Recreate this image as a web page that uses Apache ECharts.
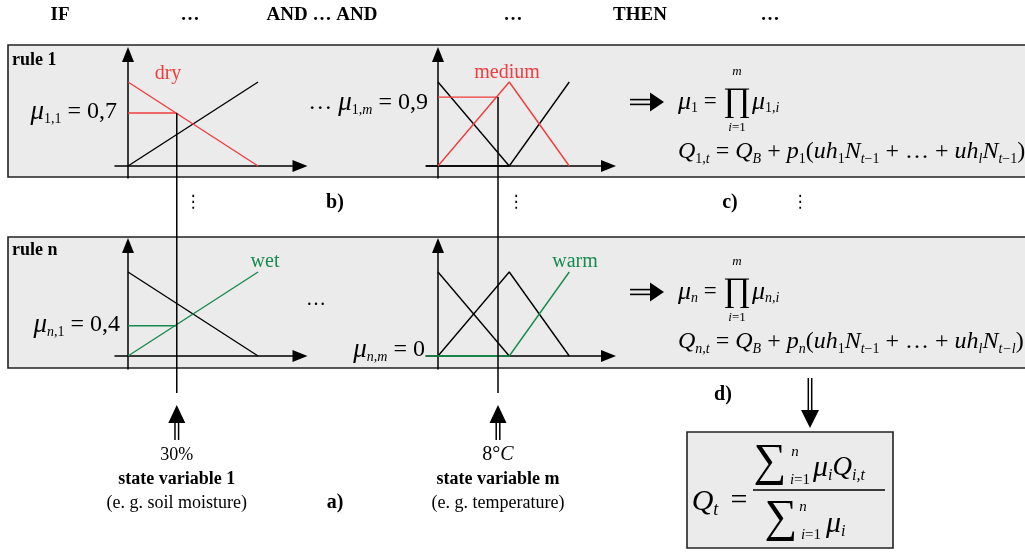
<!DOCTYPE html>
<html><head><meta charset="utf-8">
<script src="https://cdn.jsdelivr.net/npm/echarts@6/dist/echarts.min.js"></script>
<style>html,body{margin:0;padding:0;background:#fff}#c{width:1025px;height:552px}</style>
</head><body><div id="c"></div>
<script>
// ---- data: membership functions ----
// state variable 1 : soil moisture (%)
const moistureDry = [[0, 1], [80, 0]];
const moistureWet = [[0, 0], [80, 1]];
// state variable m : temperature (°C)
const tempCold = [[0, 1], [9.5, 0]];
const tempMedium = [[0, 0], [9.5, 1], [17.5, 0]];
const tempWarm = [[-1.6, 0], [9.5, 0], [17.5, 1]];
// crisp inputs
const inputMoisture = 30;
const inputTemp = 8;
// degrees of membership (as drawn)
const muRule1 = [0.63, 0.82];
const muRuleN = [0.36, 0];
// header words
const headerWords = ['IF', '…', 'AND … AND', '…', 'THEN', '…'];

const RED = '#f03c3c', GREEN = '#178a4e', BLACK = '#000';
const SERIF = '"Liberation Serif","DejaVu Serif",serif';

const chart = echarts.init(document.getElementById('c'), null, {renderer: 'canvas'});

function axisCommon(extra) {
  return Object.assign({
    type: 'value', axisLine: {show: true, onZero: true, symbol: ['none', 'triangle'], symbolSize: [12, 15],
      lineStyle: {color: BLACK, width: 1.5}},
    axisTick: {show: false}, axisLabel: {show: false}, splitLine: {show: false}
  }, extra);
}
const grids = [
  {left: 115, top: 54.5, width: 185, height: 123.5},
  {left: 426, top: 54.5, width: 182.5, height: 123.5},
  {left: 115, top: 245.5, width: 185, height: 123.5},
  {left: 426, top: 245.5, width: 182.5, height: 123.5}
];
const xAxes = [
  axisCommon({gridIndex: 0, min: -8, max: 105.8}),
  axisCommon({gridIndex: 1, min: -1.6, max: 22.73}),
  axisCommon({gridIndex: 2, min: -8, max: 105.8}),
  axisCommon({gridIndex: 3, min: -1.6, max: 22.73})
];
const yAxes = [
  axisCommon({gridIndex: 0, min: -0.1429, max: 1.327}),
  axisCommon({gridIndex: 1, min: -0.1429, max: 1.327}),
  axisCommon({gridIndex: 2, min: -0.1548, max: 1.3155}),
  axisCommon({gridIndex: 3, min: -0.1548, max: 1.3155})
];
function ln(i, data, color) {
  return {type: 'line', xAxisIndex: i, yAxisIndex: i, data, symbol: 'none', silent: true,
    lineStyle: {color, width: 1.4}, animation: false};
}
const series = [
  ln(0, moistureWet, BLACK), ln(0, moistureDry, RED),
  ln(0, [[0, muRule1[0]], [inputMoisture, muRule1[0]]], RED),
  ln(1, tempCold, BLACK), ln(1, tempWarm, BLACK), ln(1, tempMedium, RED),
  ln(1, [[0, muRule1[1]], [inputTemp, muRule1[1]]], RED),
  ln(2, moistureDry, BLACK), ln(2, moistureWet, GREEN),
  ln(2, [[0, muRuleN[0]], [inputMoisture, muRuleN[0]]], GREEN),
  ln(3, tempCold, BLACK), ln(3, tempMedium, BLACK), ln(3, tempWarm, GREEN),
  ln(3, [[0, muRuleN[1]], [inputTemp, muRuleN[1]]], GREEN)
];

chart.setOption({animation: false, grid: grids, xAxis: xAxes, yAxis: yAxes, series});

// ---------- decorations ----------
function rich(sz) {
  const sub = Math.round(sz * 0.6);
  return {
    m: {fontFamily: SERIF, fontStyle: 'italic', fontSize: sz, lineHeight: sz + 4, verticalAlign: 'middle'},
    g: {fontFamily: SERIF, fontStyle: 'italic', fontSize: Math.round(sz * 1.12), lineHeight: sz + 4, verticalAlign: 'middle'},
    r: {fontFamily: SERIF, fontSize: sz, lineHeight: sz + 4, verticalAlign: 'middle'},
    s: {fontFamily: SERIF, fontSize: sub, lineHeight: sub, verticalAlign: 'bottom'},
    si: {fontFamily: SERIF, fontStyle: 'italic', fontSize: sub, lineHeight: sub, verticalAlign: 'bottom'}
  };
}
function rt(x, y, text, sz, align) {
  return {type: 'text', x, y, z: 20, silent: true,
    style: {text, rich: rich(sz), align: align || 'left', verticalAlign: 'middle', fill: BLACK, fontFamily: SERIF, fontSize: sz}};
}
function tx(x, y, text, o) {
  return {type: 'text', x, y, z: 20, silent: true,
    style: Object.assign({text, fill: BLACK, fontFamily: SERIF, fontSize: 18, align: 'center', verticalAlign: 'middle'}, o || {})};
}
function seg(x1, y1, x2, y2, w) {
  return {type: 'line', z: 15, silent: true, shape: {x1, y1, x2, y2}, style: {stroke: BLACK, lineWidth: w || 1.5}};
}
function poly(pts) {
  return {type: 'polygon', z: 15, silent: true, shape: {points: pts}, style: {fill: BLACK}};
}
function arrowRight(y) {
  return [seg(630, y - 2.4, 652, y - 2.4, 1.6), seg(630, y + 2.4, 652, y + 2.4, 1.6),
    poly([[650, y - 9.5], [664, y], [650, y + 9.5]])];
}
function arrowUp(x) {
  return [seg(x - 1.8, 422, x - 1.8, 440, 1.5), seg(x + 1.8, 422, x + 1.8, 440, 1.5),
    poly([[x - 8.5, 423], [x, 405], [x + 8.5, 423]])];
}

const p0 = chart.convertToPixel({gridIndex: 0}, [inputMoisture, muRule1[0]]);
const p1 = chart.convertToPixel({gridIndex: 1}, [inputTemp, muRule1[1]]);

const hx = [60, 190, 322, 513, 640, 770];
const g = [];
// boxes
g.push({type: 'rect', z: -10, silent: true, shape: {x: 8, y: 45, width: 1040, height: 132}, style: {fill: '#ebebeb', stroke: '#222', lineWidth: 1.6}});
g.push({type: 'rect', z: -10, silent: true, shape: {x: 8, y: 237, width: 1040, height: 131}, style: {fill: '#ebebeb', stroke: '#222', lineWidth: 1.6}});
g.push({type: 'rect', z: -10, silent: true, shape: {x: 687, y: 432, width: 206, height: 116}, style: {fill: '#ebebeb', stroke: '#222', lineWidth: 1.6}});
// header
headerWords.forEach((w, i) => g.push(tx(hx[i], 15, w, {fontWeight: 'bold', fontSize: 19})));
g.push(tx(12, 60, 'rule 1', {fontWeight: 'bold', fontSize: 18, align: 'left'}));
g.push(tx(12, 250, 'rule n', {fontWeight: 'bold', fontSize: 18, align: 'left'}));
// term labels
g.push(tx(168, 74, 'dry', {fill: RED, fontSize: 20}));
g.push(tx(507, 73, 'medium', {fill: RED, fontSize: 20}));
g.push(tx(265, 262, 'wet', {fill: GREEN, fontSize: 20}));
g.push(tx(575, 262, 'warm', {fill: GREEN, fontSize: 20}));
// membership degree labels
g.push(rt(117, 112, '{g|μ}{s|1,1}{r| = 0,7}', 24, 'right'));
g.push(rt(428, 103, '{r|… }{g|μ}{s|1,}{si|m}{r| = 0,9}', 24, 'right'));
g.push(rt(120, 325, '{g|μ}{si|n}{s|,1}{r| = 0,4}', 24, 'right'));
g.push(rt(425, 350, '{g|μ}{si|n,m}{r| = 0}', 24, 'right'));
g.push(tx(316, 300, '…', {fontSize: 20}));
// middle row
g.push(tx(193, 203, '⋮', {fontSize: 17, fontFamily: '"DejaVu Sans"'}));
g.push(tx(516, 203, '⋮', {fontSize: 17, fontFamily: '"DejaVu Sans"'}));
g.push(tx(800, 203, '⋮', {fontSize: 17, fontFamily: '"DejaVu Sans"'}));
g.push(tx(335, 203, 'b)', {fontWeight: 'bold', fontSize: 20}));
g.push(tx(730, 203, 'c)', {fontWeight: 'bold', fontSize: 20}));
// rule consequents
[[102, 152, true, '{m|Q}{s|1,}{si|t}{r| = }{m|Q}{si|B}{r| + }{m|p}{s|1}{r|(}{m|uh}{s|1}{m|N}{si|t}{s|−1}{r| + … + }{m|uh}{si|l}{m|N}{si|t}{s|−1}{r|)}'],
 [292, 342, false, '{m|Q}{si|n,t}{r| = }{m|Q}{si|B}{r| + }{m|p}{si|n}{r|(}{m|uh}{s|1}{m|N}{si|t}{s|−1}{r| + … + }{m|uh}{si|l}{m|N}{si|t−l}{r|)}']
].forEach(([y1, y2, first, q]) => {
  arrowRight(y1).forEach(e => g.push(e));
  g.push(rt(678, y1, first ? '{g|μ}{s|1}{r| =}' : '{g|μ}{si|n}{r| =}', 23, 'left'));
  g.push(tx(737, y1, '∏', {fontSize: 34}));
  g.push(tx(737, y1 - 30, 'm', {fontSize: 13, fontStyle: 'italic'}));
  g.push(rt(737, y1 + 26, '{m|i}{r|=1}', 13, 'center'));
  g.push(rt(752, y1, first ? '{g|μ}{s|1,}{si|i}' : '{g|μ}{si|n,i}', 23, 'left'));
  g.push(rt(678, y2, q, 24, 'left'));
});
// input lines and arrows
g.push(seg(p0[0], p0[1], p0[0], 393, 1.5));
g.push(seg(p1[0], p1[1], p1[0], 393, 1.5));
arrowUp(p0[0]).forEach(e => g.push(e));
arrowUp(p1[0]).forEach(e => g.push(e));
g.push(tx(p0[0], 455, '30%', {fontSize: 18}));
g.push(tx(p0[0], 479, 'state variable 1', {fontSize: 18, fontWeight: 'bold'}));
g.push(tx(p0[0], 503, '(e. g. soil moisture)', {fontSize: 18}));
g.push(rt(p1[0], 455, '{r|8°}{m|C}', 20, 'center'));
g.push(tx(p1[0], 479, 'state variable m', {fontSize: 18, fontWeight: 'bold'}));
g.push(tx(p1[0], 503, '(e. g. temperature)', {fontSize: 18}));
g.push(tx(335, 503, 'a)', {fontWeight: 'bold', fontSize: 20}));
g.push(tx(723, 395, 'd)', {fontWeight: 'bold', fontSize: 20}));
// down arrow
g.push(seg(808.3, 378, 808.3, 411, 1.5));
g.push(seg(811.7, 378, 811.7, 411, 1.5));
g.push(poly([[801, 410], [819, 410], [810, 428]]));
// final formula
g.push(rt(705, 502, '{m|Q}{si|t}', 30, 'center'));
g.push(tx(739, 501, '=', {fontSize: 30}));
g.push(seg(753, 490, 885, 490, 1.3));
g.push(tx(770, 463, '∑', {fontSize: 46}));
g.push(tx(795, 452, 'n', {fontSize: 15, fontStyle: 'italic'}));
g.push(rt(800, 480, '{m|i}{r|=1}', 15, 'center'));
g.push(rt(813, 468, '{g|μ}{si|i}{m|Q}{si|i,t}', 27, 'left'));
g.push(tx(781, 519, '∑', {fontSize: 46}));
g.push(tx(803, 507, 'n', {fontSize: 15, fontStyle: 'italic'}));
g.push(rt(811, 535, '{m|i}{r|=1}', 15, 'center'));
g.push(rt(826, 524, '{g|μ}{si|i}', 27, 'left'));

chart.setOption({graphic: {elements: g}});
</script></body></html>
